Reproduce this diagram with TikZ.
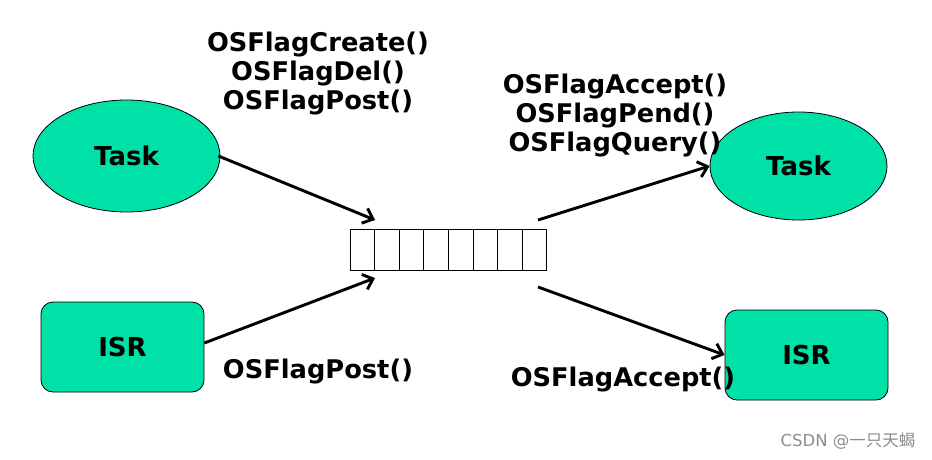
\documentclass[tikz,border=0pt]{standalone}
\usepackage{fontspec}
\setmainfont{DejaVu Sans}
\newfontfamily\cjkfont{Noto Sans CJK SC}
\usetikzlibrary{shapes.geometric,arrows.meta}
\definecolor{fillg}{HTML}{00E1A8}
\tikzset{
  lbl/.style={font=\fontsize{25.7}{29}\selectfont\bfseries, align=center, inner sep=0pt},
  taskell/.style={ellipse, draw=black, line width=0.8pt, fill=fillg, font=\fontsize{26}{29}\selectfont\bfseries},
  isrbox/.style={draw=black, line width=0.8pt, fill=fillg, rounded corners=12pt, font=\fontsize{26}{29}\selectfont\bfseries},
  cell/.style={draw=black, line width=0.8pt, minimum width=24.6pt, minimum height=41pt, inner sep=0pt},
  arr/.style={line width=2.9pt, -{Straight Barb[length=9pt,width=16pt,line width=2.9pt]}}
}
\begin{document}
\begin{tikzpicture}[x=1pt,y=-1pt]
\useasboundingbox (0,0) rectangle (932,460);
% nodes
\node[taskell, minimum width=187pt, minimum height=112pt] (t1) at (126.5,156) {Task};
\node[isrbox, minimum width=163pt, minimum height=90pt] (i1) at (122.5,347) {ISR};
\node[taskell, minimum width=177pt, minimum height=108pt] (t2) at (798.5,166) {Task};
\node[isrbox, minimum width=163pt, minimum height=90pt] (i2) at (806.5,355) {ISR};
% queue
\foreach \i in {0,...,7} {
  \node[cell] (c\i) at ({362.3+24.6*\i},249.5) {};
}
\coordinate (q1) at (375,220);
\coordinate (q2) at (375,278);
\coordinate (q3) at (538,220);
\coordinate (q4) at (538,287);
\draw[arr] (t1.east) ++(-2,0) coordinate (s1) -- (q1);
\draw[arr] (i1.east) ++(0,-4) coordinate (s2) -- (q2);
\draw[arr] (q3) -- (t2.west);
\draw[arr] (q4) -- (i2.west);
% labels
\node[lbl] (l1) at (318,74) {OSFlagCreate()\\OSFlagDel()\\OSFlagPost()};
\node[lbl] (l2) at (615,116) {OSFlagAccept()\\OSFlagPend()\\OSFlagQuery()};
\node[lbl] (l3) at (318,372) {OSFlagPost()};
\node[lbl] (l4) at (623,380) {OSFlagAccept()};
\node[font=\fontsize{16.5}{19}\selectfont, text=black!45, inner sep=0pt] (wm) at (848,441) {CSDN @{\cjkfont 一只天蝎}};
\end{tikzpicture}
\end{document}
